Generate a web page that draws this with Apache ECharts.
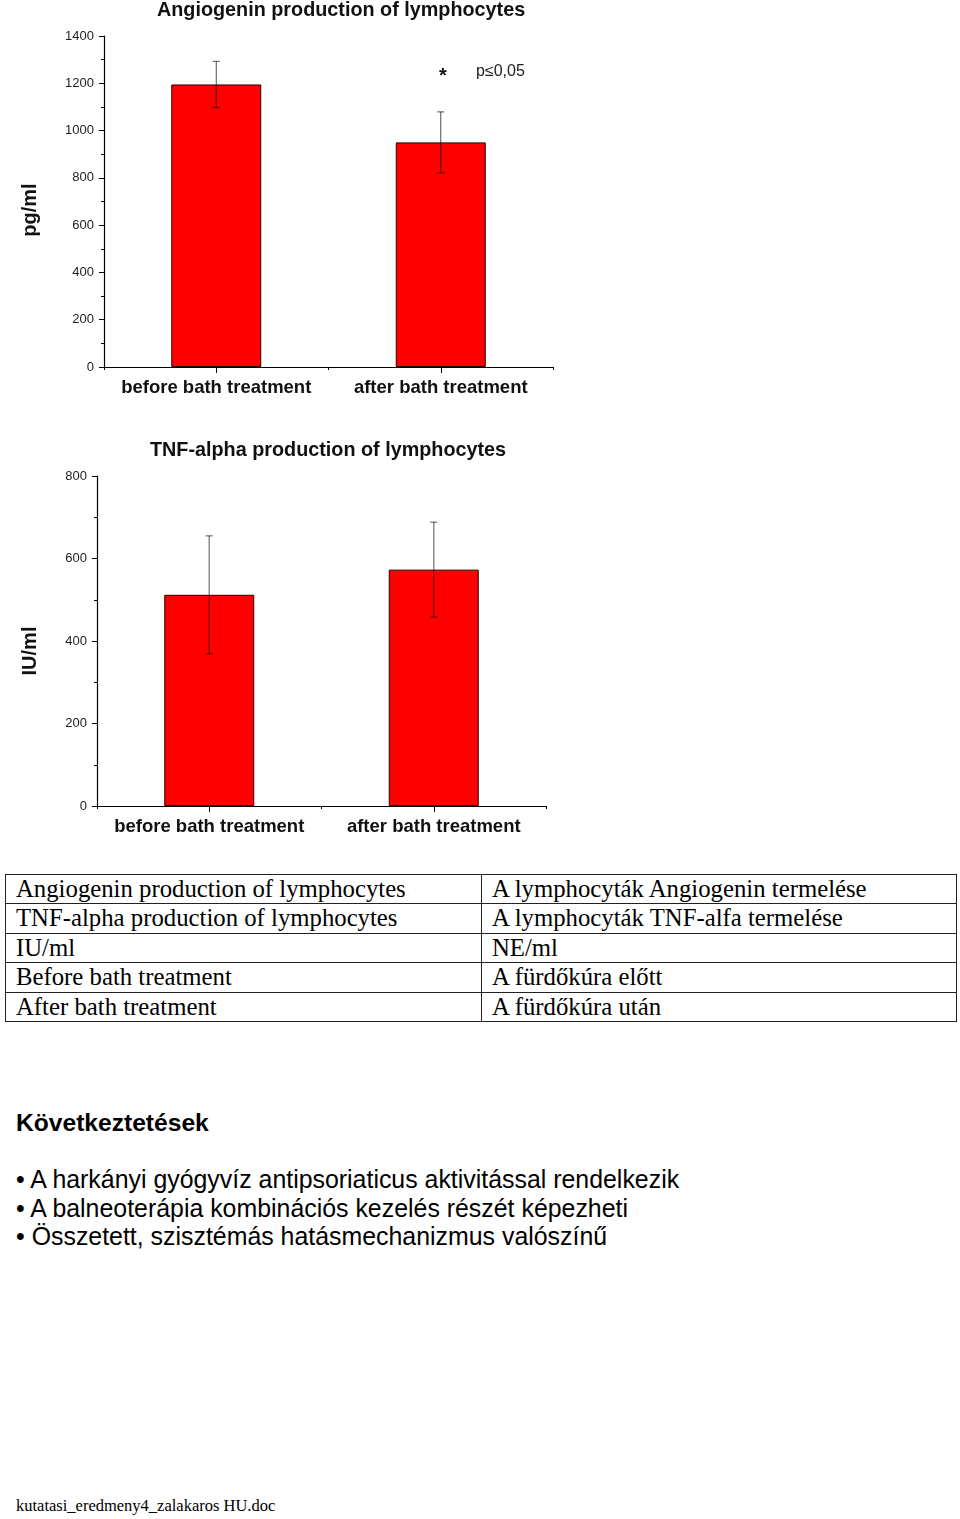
<!DOCTYPE html>
<html>
<head>
<meta charset="utf-8">
<script src="https://cdn.jsdelivr.net/npm/echarts@6/dist/echarts.min.js"></script>
<style>
  html, body { margin: 0; padding: 0; background: #fff; }
  body { width: 960px; height: 1519px; position: relative; overflow: hidden; }
  #chart { position: absolute; left: 0; top: 0; width: 960px; height: 860px; }
  table.tr { position: absolute; left: 5px; top: 874px; width: 952px; border-collapse: collapse;
    font-family: "Liberation Serif", "Times New Roman", serif; font-size: 24.75px; color: #000; }
  table.tr td { border: 1px solid #222; height: 28.4px; line-height: 28.4px; padding: 0 0 0 10px; white-space: nowrap; }
  table.tr td:first-child { width: 465px; }
  #concl { position: absolute; left: 16px; top: 1106px; font-family: "Liberation Sans", Arial, sans-serif;
    font-size: 24.6px; font-weight: bold; color: #000; line-height: 34px; margin: 0; }
  #bullets { position: absolute; left: 16px; top: 1165px; margin: 0; padding: 0; list-style: none;
    font-family: "Liberation Sans", Arial, sans-serif; font-size: 24.9px; color: #000; line-height: 28.7px; }
  #footer { position: absolute; left: 16px; top: 1495px; font-family: "Liberation Serif", "Times New Roman", serif;
    font-size: 16.5px; color: #000; line-height: 22px; }
</style>
</head>
<body>
<div id="chart"></div>

<table class="tr">
  <tr><td>Angiogenin production of lymphocytes</td><td>A lymphocyták Angiogenin termelése</td></tr>
  <tr><td>TNF-alpha production of lymphocytes</td><td>A lymphocyták TNF-alfa termelése</td></tr>
  <tr><td>IU/ml</td><td>NE/ml</td></tr>
  <tr><td>Before bath treatment</td><td>A fürdőkúra előtt</td></tr>
  <tr><td>After bath treatment</td><td>A fürdőkúra után</td></tr>
</table>

<p id="concl">Következtetések</p>
<ul id="bullets">
  <li>• A harkányi gyógyvíz antipsoriaticus aktivitással rendelkezik</li>
  <li>• A balneoterápia kombinációs kezelés részét képezheti</li>
  <li>• Összetett, szisztémás hatásmechanizmus valószínű</li>
</ul>
<div id="footer">kutatasi_eredmeny4_zalakaros HU.doc</div>

<script>
// ---- data ----
const categories = ['before bath treatment', 'after bath treatment'];
const angiogeninMean = [1195, 950];
const angiogeninErr = [98, 129];
const tnfMean = [512, 573];
const tnfErr = [143, 115];
const angiogeninTicks = { min: 0, max: 1400, interval: 200 };
const tnfTicks = { min: 0, max: 800, interval: 200 };

const chart = echarts.init(document.getElementById('chart'), null, { renderer: 'canvas' });

function errorBarRenderer(color, width) {
  return function (params, api) {
    const x = api.value(0);
    const m = api.value(1);
    const e = api.value(2);
    const top = api.coord([x, m + e]);
    const bot = api.coord([x, m - e]);
    const hw = 3.5;
    const style = { stroke: color, lineWidth: width };
    return {
      type: 'group',
      children: [
        { type: 'line', shape: { x1: top[0], y1: top[1], x2: bot[0], y2: bot[1] }, style: style },
        { type: 'line', shape: { x1: top[0] - hw, y1: top[1], x2: top[0] + hw, y2: top[1] }, style: style },
        { type: 'line', shape: { x1: bot[0] - hw, y1: bot[1], x2: bot[0] + hw, y2: bot[1] }, style: style }
      ]
    };
  };
}

const FONT = 'Liberation Sans, Arial, sans-serif';

function mainX(gridIndex) {
  return {
    type: 'category', gridIndex: gridIndex, data: categories, position: 'bottom',
    axisLine: { show: true, lineStyle: { color: '#000', width: 1.2 } },
    axisTick: { show: true, alignWithLabel: true, length: 6, inside: false, lineStyle: { color: '#000' } },
    axisLabel: { interval: 0, hideOverlap: false, margin: 11, fontSize: 18.5, fontWeight: 'bold', color: '#111', fontFamily: FONT },
    splitLine: { show: false }
  };
}
function minorX(gridIndex) {
  return {
    type: 'category', gridIndex: gridIndex, data: categories, position: 'bottom',
    axisLine: { show: false },
    axisTick: { show: true, interval: 0, alignWithLabel: false, length: 3, lineStyle: { color: '#000' } },
    axisLabel: { show: false },
    splitLine: { show: false }
  };
}
function mainY(gridIndex, ticks, name, gap, pad) {
  return {
    type: 'value', gridIndex: gridIndex, min: ticks.min, max: ticks.max, interval: ticks.interval,
    name: name, nameLocation: 'middle', nameGap: gap,
    nameTextStyle: { fontSize: 20, fontWeight: 'bold', color: '#111', fontFamily: FONT, padding: pad },
    axisLine: { show: true, lineStyle: { color: '#000', width: 1.2 } },
    axisTick: { show: true, length: 5, lineStyle: { color: '#000' } },
    minorTick: { show: true, splitNumber: 2, length: 3, lineStyle: { color: '#000' } },
    axisLabel: { margin: 10, fontSize: 13, color: '#222', fontFamily: FONT, formatter: (v) => String(v) },
    splitLine: { show: false }, minorSplitLine: { show: false }
  };
}

const option = {
  backgroundColor: '#fff',
  animation: false,
  title: [
    { text: 'Angiogenin production of lymphocytes', left: 152, top: -4,
      textStyle: { fontSize: 19.8, fontWeight: 'bold', color: '#111', fontFamily: FONT } },
    { text: 'TNF-alpha production of lymphocytes', left: 145, top: 436,
      textStyle: { fontSize: 19.8, fontWeight: 'bold', color: '#111', fontFamily: FONT } }
  ],
  grid: [
    { left: 104, top: 36, width: 449, height: 331 },
    { left: 97, top: 476, width: 449, height: 330 }
  ],
  xAxis: [mainX(0), minorX(0), mainX(1), minorX(1)],
  yAxis: [
    mainY(0, angiogeninTicks, 'pg/ml', 64, [0, 17, 0, 0]),
    mainY(1, tnfTicks, 'IU/ml', 57, [0, 20, 0, 0])
  ],
  series: [
    { type: 'bar', xAxisIndex: 0, yAxisIndex: 0, data: angiogeninMean, barWidth: 90,
      itemStyle: { color: '#ff0000', borderColor: '#2a0000', borderWidth: 1 } },
    { type: 'custom', xAxisIndex: 0, yAxisIndex: 0, z: 5,
      renderItem: errorBarRenderer('rgba(0,0,0,0.7)', 1),
      data: categories.map((c, i) => [i, angiogeninMean[i], angiogeninErr[i]]) },
    { type: 'bar', xAxisIndex: 2, yAxisIndex: 1, data: tnfMean, barWidth: 90,
      itemStyle: { color: '#ff0000', borderColor: '#2a0000', borderWidth: 1 } },
    { type: 'custom', xAxisIndex: 2, yAxisIndex: 1, z: 5,
      renderItem: errorBarRenderer('rgba(0,0,0,0.45)', 1.5),
      data: categories.map((c, i) => [i, tnfMean[i], tnfErr[i]]) }
  ],
  graphic: [
    { type: 'text', left: 439, top: 66, style: { text: '*', fontSize: 20, fontWeight: 'bold', fill: '#111', fontFamily: FONT } },
    { type: 'text', left: 476, top: 64, style: { text: 'p≤0,05', fontSize: 16, fill: '#222', fontFamily: FONT } }
  ]
};
chart.setOption(option);
</script>
</body>
</html>
